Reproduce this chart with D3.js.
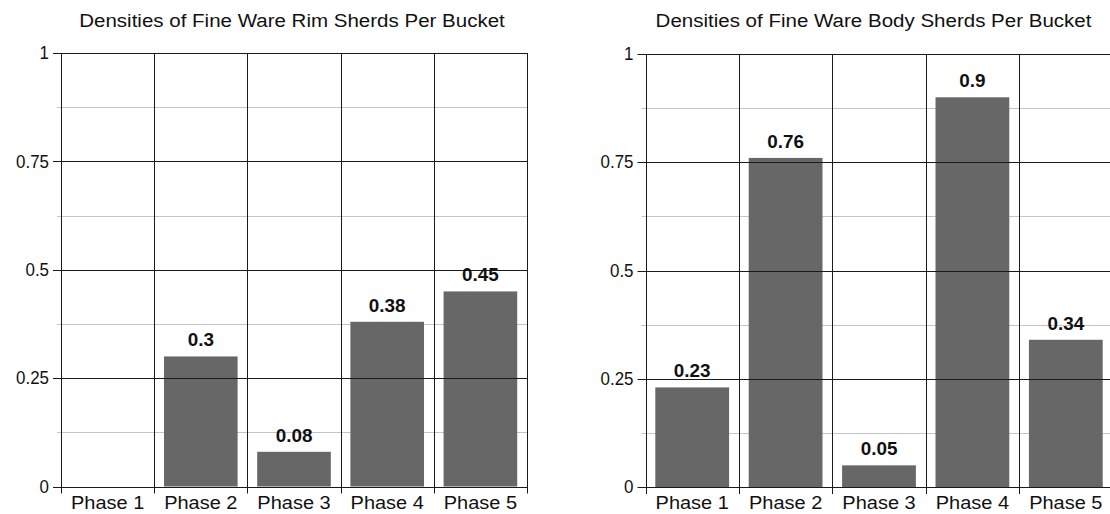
<!DOCTYPE html>
<html>
<head>
<meta charset="utf-8">
<script src="https://cdn.jsdelivr.net/npm/d3@7"></script>
<style>
  html, body { margin: 0; padding: 0; background: #fff; }
  svg { display: block; }
  text { font-family: "Liberation Sans", Arial, sans-serif; fill: #111; }
</style>
</head>
<body>
<svg id="chart" width="1110" height="514"></svg>
<script>
const categories = ["Phase 1", "Phase 2", "Phase 3", "Phase 4", "Phase 5"];
const rimValues = [0, 0.3, 0.08, 0.38, 0.45];
const bodyValues = [0.23, 0.76, 0.05, 0.9, 0.34];
const majorTicks = [0, 0.25, 0.5, 0.75, 1];
const majorTickLabels = ["0", "0.25", "0.5", "0.75", "1"];
const minorTicks = [0.125, 0.375, 0.625, 0.875];
const titles = ["Densities of Fine Ware Rim Sherds Per Bucket", "Densities of Fine Ware Body Sherds Per Bucket"];

const svg = d3.select("#chart");

function drawChart(cfg, values, title) {
  const g = svg.append("g");
  const x = d3.scaleBand().domain(categories).range([cfg.x0, cfg.x1])
    .paddingInner(0.21).paddingOuter(0.105);
  const y = d3.scaleLinear().domain([0, 1]).range([cfg.yb, cfg.yt]);
  const step = x.step();
  const bounds = d3.range(categories.length + 1).map(i => cfg.x0 + i * step);

  // minor gridlines
  g.selectAll("line.minor").data(minorTicks).join("line")
    .attr("x1", cfg.x0 - 4).attr("x2", cfg.x1)
    .attr("y1", d => Math.round(y(d)) + 0.5).attr("y2", d => Math.round(y(d)) + 0.5)
    .attr("stroke", "#c4c4c4").attr("stroke-width", 1);

  // bars
  g.selectAll("rect.bar").data(values).join("rect")
    .attr("x", (d, i) => x(categories[i]))
    .attr("width", x.bandwidth())
    .attr("y", d => y(d))
    .attr("height", d => y(0) - y(d))
    .attr("fill", "#676767");

  // major gridlines
  g.selectAll("line.major").data(majorTicks).join("line")
    .attr("x1", cfg.x0 - 8).attr("x2", cfg.x1)
    .attr("y1", d => Math.round(y(d)) + 0.5).attr("y2", d => Math.round(y(d)) + 0.5)
    .attr("stroke", "#1a1a1a").attr("stroke-width", 1);

  // vertical category boundaries
  g.selectAll("line.vert").data(bounds).join("line")
    .attr("x1", d => Math.round(d) + 0.5).attr("x2", d => Math.round(d) + 0.5)
    .attr("y1", y(1)).attr("y2", y(0) + 7)
    .attr("stroke", "#1a1a1a").attr("stroke-width", 1);

  // y tick labels
  g.selectAll("text.ylab").data(majorTicks).join("text")
    .attr("transform", d => `translate(${cfg.x0 - 12},${y(d)}) scale(0.94,1)`)
    .attr("text-anchor", "end").attr("dominant-baseline", "central")
    .style("font-size", "18px")
    .text((d, i) => majorTickLabels[i]);

  // x labels
  g.selectAll("text.xlab").data(categories).join("text")
    .attr("transform", d => `translate(${x(d) + x.bandwidth() / 2},${y(0) + 22}) scale(1.08,1)`)
    .attr("text-anchor", "middle")
    .style("font-size", "18.5px")
    .text(d => d);

  // value labels
  g.selectAll("text.val").data(values.map((v, i) => ({v, c: categories[i]})).filter(d => d.v > 0)).join("text")
    .attr("transform", d => `translate(${x(d.c) + x.bandwidth() / 2},${y(d.v) - 10}) scale(1.05,1)`)
    .attr("text-anchor", "middle")
    .style("font-size", "18px").style("font-weight", "bold")
    .text(d => String(d.v));

  // title
  svg.append("text")
    .attr("transform", `translate(${cfg.tx},${27}) scale(1.08,1)`)
    .attr("text-anchor", "middle")
    .style("font-size", "19px")
    .text(title);
}

drawChart({x0: 61, x1: 527, yt: 53, yb: 486.5, tx: 292}, rimValues, titles[0]);
drawChart({x0: 645.5, x1: 1112.5, yt: 54, yb: 487, tx: 873.5}, bodyValues, titles[1]);
</script>
</body>
</html>
